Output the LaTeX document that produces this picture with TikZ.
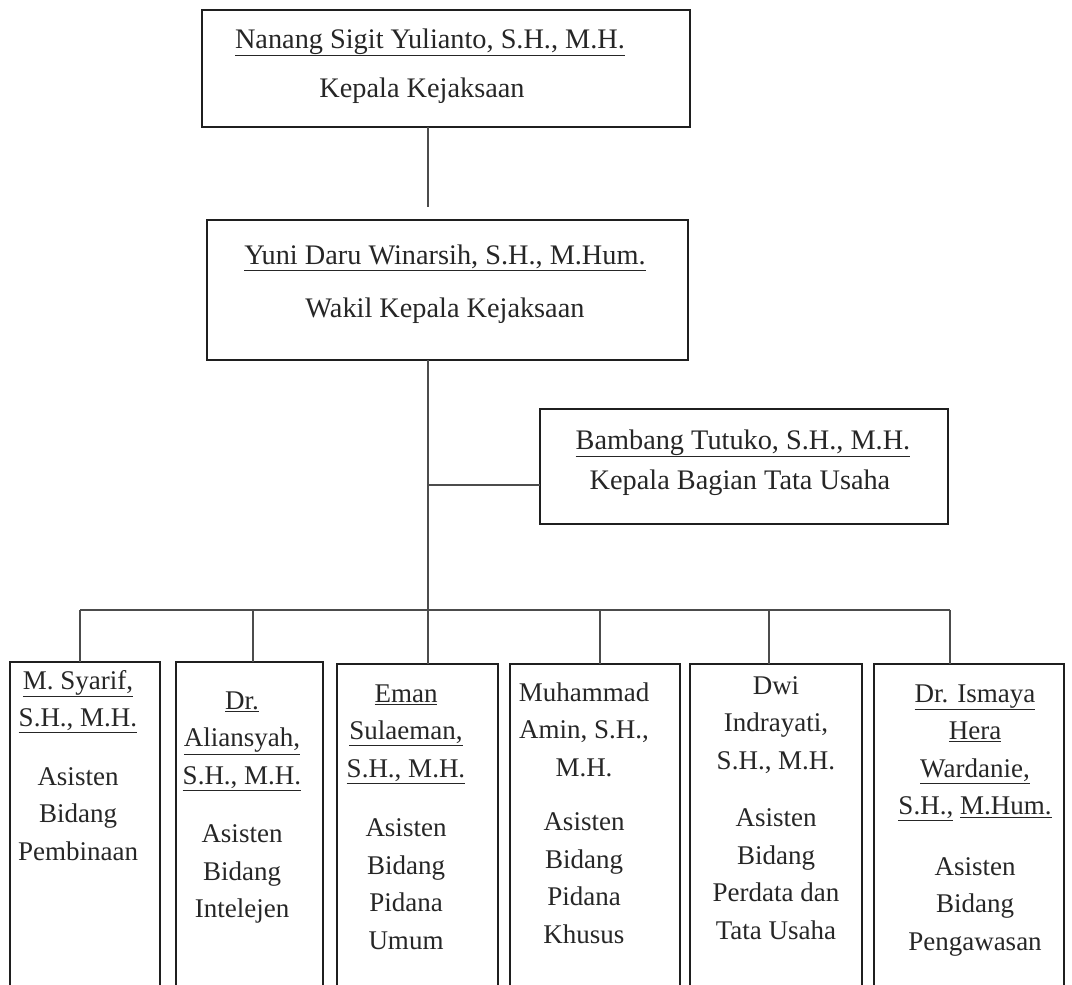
\documentclass[tikz,border=0pt]{standalone}
\usepackage{fontspec}
\setmainfont{Liberation Serif}
\tikzset{
  box/.style={draw=black!88, line width=2.4pt, rectangle, inner sep=0pt, outer sep=0pt},
  ghost/.style={rectangle, inner sep=0pt, outer sep=0pt},
  border/.style={draw=black!88, line width=2.4pt},
  conn/.style={draw=black!70, line width=2pt},
  txt/.style={inner sep=0pt, text=black!85, font=\fontsize{27}{37.5}\selectfont},
  ttxt/.style={txt, anchor=base, font=\fontsize{28.3}{37.5}\selectfont},
  btxt/.style={txt, align=center, anchor=north}
}
\begin{document}
\begin{tikzpicture}[x=1pt,y=-1pt]
\useasboundingbox (0,0) rectangle (1072,985);
% top boxes
\node[box, minimum width=488, minimum height=117] (k) at (446,68.5) {};
\node[box, minimum width=481, minimum height=140] (w) at (447.5,290) {};
\node[box, minimum width=408, minimum height=115] (tu) at (744,466.5) {};
\node[ttxt] (ka) at (430,48) {\underline{Nanang Sigit Yulianto, S.H., M.H.}};
\node[ttxt] (kb) at (422,97) {Kepala Kejaksaan};
\node[ttxt] (wa) at (445,264) {\underline{Yuni Daru Winarsih, S.H., M.Hum.}};
\node[ttxt] (wb) at (445,317) {Wakil Kepala Kejaksaan};
\node[ttxt] (ta) at (743,449) {\underline{Bambang Tutuko, S.H., M.H.}};
\node[ttxt] (tb) at (740,489) {Kepala Bagian Tata Usaha};
% bottom boxes (open at bottom)
\node[ghost, minimum width=150, minimum height=323] (b1) at (85,823.5) {};
\node[ghost, minimum width=147, minimum height=323] (b2) at (249.5,823.5) {};
\node[ghost, minimum width=161, minimum height=321] (b3) at (417.5,824.5) {};
\node[ghost, minimum width=170, minimum height=321] (b4) at (595,824.5) {};
\node[ghost, minimum width=172, minimum height=321] (b5) at (776,824.5) {};
\node[ghost, minimum width=190, minimum height=321] (b6) at (969,824.5) {};
\foreach \b in {b1,b2,b3,b4,b5,b6}{
  \draw[border] (\b.south west) |- (\b.north east) -- (\b.south east);
}
\node[btxt] (n1) at (78,663) {\strut\underline{M. Syarif,}\\\underline{S.H., M.H.}\\[21pt]Asisten\\Bidang\\Pembinaan};
\node[btxt] (n2) at (242,683) {\strut\underline{Dr.}\\\underline{Aliansyah,}\\\underline{S.H., M.H.}\\[21pt]Asisten\\Bidang\\Intelejen};
\node[btxt] (n3) at (406,676) {\strut\underline{Eman}\\\underline{Sulaeman,}\\\underline{S.H., M.H.}\\[22pt]Asisten\\Bidang\\Pidana\\Umum};
\node[btxt] (n4) at (584,675) {\strut Muhammad\\Amin, S.H.,\\M.H.\\[17pt]Asisten\\Bidang\\Pidana\\Khusus};
\node[btxt] (n5) at (776,668) {\strut Dwi\\Indrayati,\\S.H., M.H.\\[20pt]Asisten\\Bidang\\Perdata dan\\Tata Usaha};
\node[btxt] (n6) at (975,676) {\strut\underline{Dr. Ismaya}\\\underline{Hera}\\\underline{Wardanie,}\\\underline{S.H.,} \underline{M.Hum.}\\[23pt]Asisten\\Bidang\\Pengawasan};
% connectors
\coordinate (tr) at (428,0);
\coordinate (j3) at (428,485);
\coordinate (bus) at (428,610);
\draw[conn, shorten >=13pt] (k.south -| tr) -- (w.north -| tr);
\draw[conn] (w.south -| tr) -- (bus);
\draw[conn] (j3) -- (j3 -| tu.west);
\coordinate (d1) at (80,610);
\coordinate (d2) at (253,610);
\coordinate (d3) at (428,610);
\coordinate (d4) at (600,610);
\coordinate (d5) at (769,610);
\coordinate (d6) at (950,610);
\draw[conn] (d1) -- (d6);
\draw[conn] (d1) -- (d1 |- b1.north);
\draw[conn] (d2) -- (d2 |- b2.north);
\draw[conn] (d3) -- (d3 |- b3.north);
\draw[conn] (d4) -- (d4 |- b4.north);
\draw[conn] (d5) -- (d5 |- b5.north);
\draw[conn] (d6) -- (d6 |- b6.north);
\end{tikzpicture}
\end{document}
